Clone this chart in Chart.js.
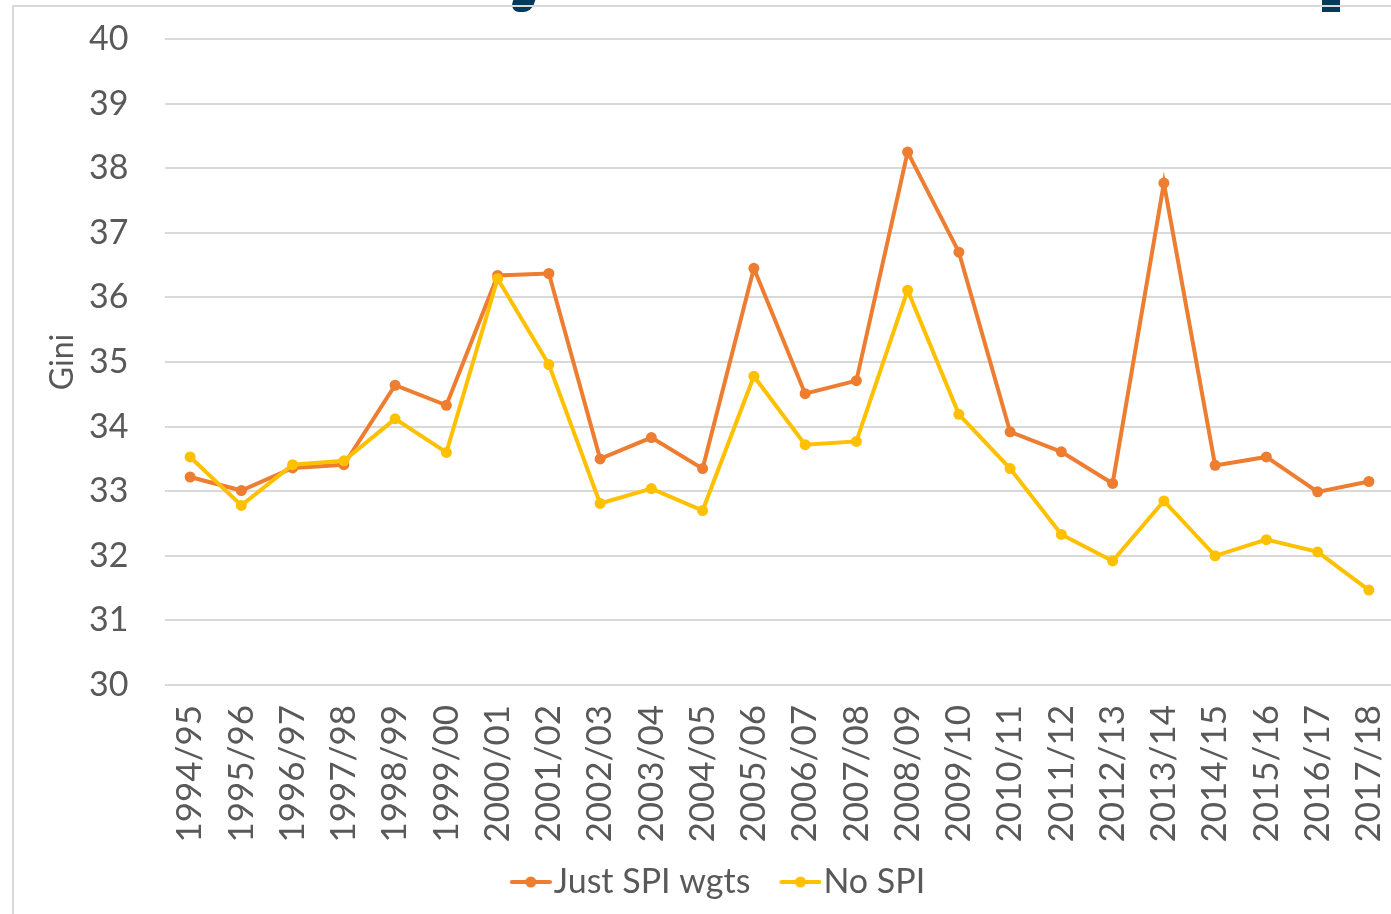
<!DOCTYPE html>
<html>
<head>
<meta charset="utf-8">
<script src="https://cdn.jsdelivr.net/npm/chart.js@4.4.1/dist/chart.umd.min.js"></script>
<style>
  html, body { margin: 0; padding: 0; background: #fff; overflow: hidden; width: 1391px; height: 914px; }
  #wrap { position: absolute; left: 0; top: 0; width: 1400px; height: 914px; }
  #frame { position: absolute; left: 12px; top: 5px; width: 1400px; height: 920px; border-left: 2px solid #d9d9d9; border-top: 2px solid #d9d9d9; }
  .frag1 { position: absolute; left: 512px; top: -4px; width: 22px; height: 16px; background: #003b5c; transform: skewX(-18deg); border-radius: 0 0 8px 10px; }
  .frag2 { position: absolute; left: 1322px; top: 0; width: 18px; height: 12px; background: #003b5c; }
</style>
</head>
<body>
<div class="frag1"></div>
<div class="frag2"></div>
<div id="frame"></div>
<div id="wrap"><canvas id="c" width="1400" height="914" style="width:1400px;height:914px"></canvas></div>
<script>
const categories = ["1994/95","1995/96","1996/97","1997/98","1998/99","1999/00","2000/01","2001/02","2002/03","2003/04","2004/05","2005/06","2006/07","2007/08","2008/09","2009/10","2010/11","2011/12","2012/13","2013/14","2014/15","2015/16","2016/17","2017/18"];
const justSpiWgts = [33.22,33.01,33.36,33.41,34.64,34.33,36.34,36.37,33.50,33.83,33.35,36.45,34.51,34.71,38.25,36.70,33.92,33.61,33.12,37.77,33.40,33.53,32.99,33.15];
const noSpi = [33.53,32.78,33.41,33.47,34.12,33.60,36.29,34.96,32.81,33.04,32.70,34.78,33.72,33.77,36.11,34.19,33.35,32.33,31.92,32.85,32.00,32.25,32.06,31.47];
const seriesNames = ["Just SPI wgts","No SPI"];
const seriesColors = ["#ED7D31","#FFC000"];
const yMin = 30, yMax = 40, yStep = 1;
const yTitle = "Gini";

const FONT = "Lato, 'Open Sans', sans-serif";
const TEXT = "#595959";

// legend marker: 40px line with a dot, drawn with a transparent left margin
function legendIcon(color) {
  const c = document.createElement('canvas');
  c.width = 76; c.height = 14;
  const g = c.getContext('2d');
  g.strokeStyle = color; g.lineWidth = 4; g.lineCap = 'round';
  g.beginPath(); g.moveTo(36, 7); g.lineTo(74, 7); g.stroke();
  g.fillStyle = color; g.beginPath(); g.arc(55, 7, 5.5, 0, Math.PI * 2); g.fill();
  return c;
}
const icons = seriesColors.map(legendIcon);

const legendShift = {
  id: 'legendShift',
  afterLayout(chart) {
    if (chart.legend) { chart.legend.left += 8; chart.legend.right += 8; }
  }
};

new Chart(document.getElementById('c'), {
  type: 'line',
  data: {
    labels: categories,
    datasets: [
      { label: seriesNames[0], data: justSpiWgts, borderColor: seriesColors[0], backgroundColor: seriesColors[0],
        borderWidth: 4, pointRadius: 5.5, pointHoverRadius: 5.5, pointBorderWidth: 0, tension: 0, order: 2 },
      { label: seriesNames[1], data: noSpi, borderColor: seriesColors[1], backgroundColor: seriesColors[1],
        borderWidth: 4, pointRadius: 5.5, pointHoverRadius: 5.5, pointBorderWidth: 0, tension: 0, order: 1 }
    ]
  },
  plugins: [legendShift],
  options: {
    responsive: false,
    animation: false,
    layout: { padding: { top: 39, right: 0, bottom: 5, left: 0 } },
    plugins: {
      tooltip: { enabled: false },
      legend: {
        position: 'bottom',
        labels: {
          usePointStyle: true,
          pointStyleWidth: 46,
          boxHeight: 14,
          padding: 10,
          color: TEXT,
          font: { family: FONT, size: 34 },
          generateLabels: (chart) => chart.data.datasets.map((ds, i) => ({
            text: ds.label, fillStyle: ds.borderColor, strokeStyle: ds.borderColor,
            fontColor: TEXT, pointStyle: icons[i], lineWidth: 0, hidden: false, datasetIndex: i
          }))
        }
      }
    },
    scales: {
      x: {
        offset: true,
        grid: { display: false, drawTicks: false },
        border: { display: false },
        ticks: { color: TEXT, font: { family: FONT, size: 35 }, minRotation: 90, maxRotation: 90, padding: 20, autoSkip: false },
        afterFit: (s) => { s.height = 170; s.paddingLeft = 0; s.paddingRight = 0; }
      },
      y: {
        min: yMin, max: yMax,
        grid: { color: '#d9d9d9', lineWidth: 2, drawTicks: false },
        border: { display: false },
        ticks: { stepSize: yStep, color: TEXT, font: { family: FONT, size: 34 }, padding: 36 },
        title: { display: true, text: yTitle, color: TEXT, font: { family: FONT, size: 32 }, padding: { top: 43, bottom: 0 } },
        afterFit: (s) => { s.width = 164.5; s.paddingTop = 0; s.paddingBottom = 0; }
      }
    }
  }
});
</script>
</body>
</html>
